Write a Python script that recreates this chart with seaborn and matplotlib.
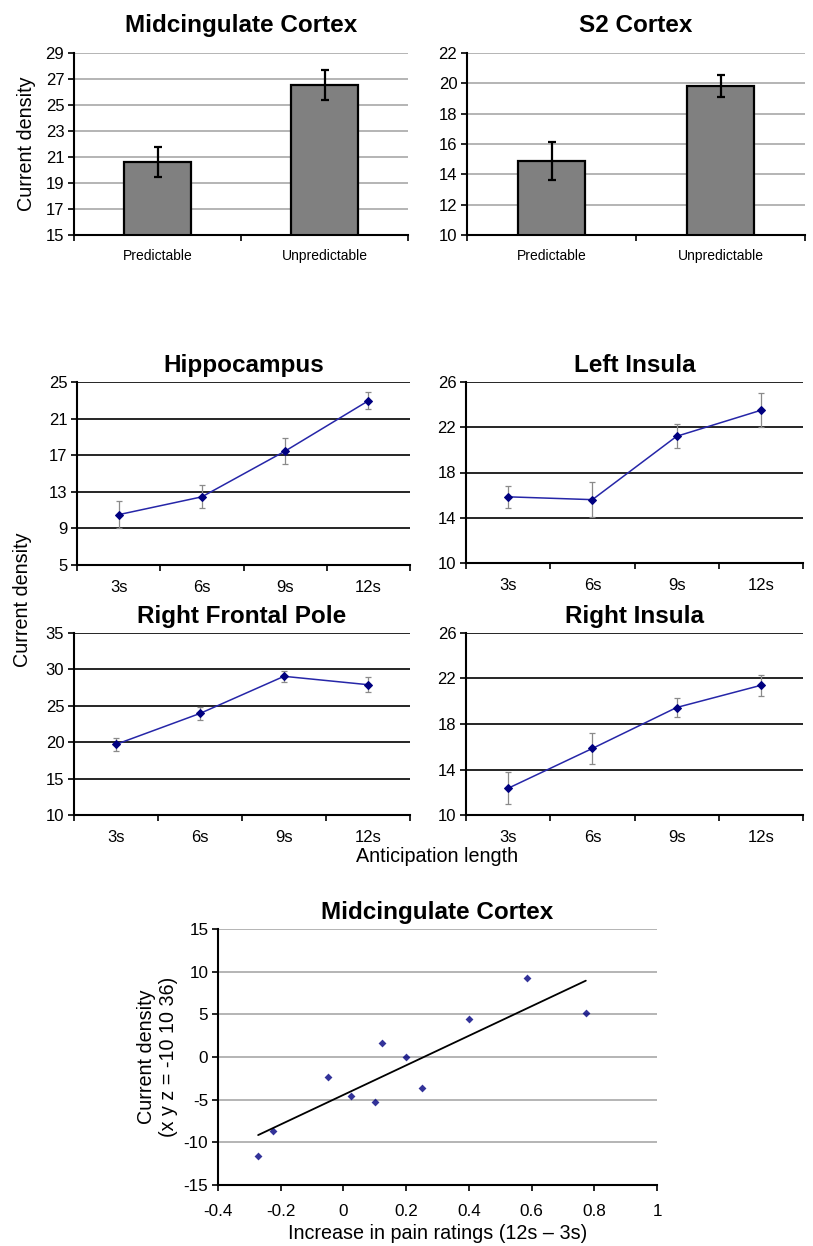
import numpy as np
import pandas as pd
import matplotlib
matplotlib.use("Agg")
import matplotlib.pyplot as plt
import seaborn as sns

sns.set_theme(style="white")
plt.rcParams['font.family'] = ['Liberation Sans', 'DejaVu Sans']
plt.rcParams['axes.unicode_minus'] = False
plt.rcParams['text.color'] = 'black'
plt.rcParams['axes.labelcolor'] = 'black'

# --- данные ---
bar_cats = ['Predictable', 'Unpredictable']
mcc_bar = [20.65, 26.55]
mcc_err = [1.15, 1.15]
s2_bar = [14.9, 19.8]
s2_err = [1.25, 0.72]

times = ['3s', '6s', '9s', '12s']
hippo = [10.5, 12.45, 17.45, 22.95]
hippo_err = [1.5, 1.25, 1.45, 0.95]
l_ins = [15.85, 15.6, 21.2, 23.5]
l_ins_err = [1.0, 1.55, 1.05, 1.5]
rfp = [19.7, 23.95, 29.05, 27.9]
rfp_err = [0.85, 0.85, 0.73, 1.0]
r_ins = [12.35, 15.85, 19.45, 21.4]
r_ins_err = [1.4, 1.35, 0.87, 0.93]

pain_x = [-0.272, -0.224, -0.049, 0.024, 0.100, 0.124, 0.200, 0.250, 0.400, 0.586, 0.773]
dens_y = [-11.64, -8.63, -2.34, -4.53, -5.31, 1.60, 0.00, -3.63, 4.41, 9.22, 5.12]

W, H = 813, 1246
fig = plt.figure(figsize=(W / 100, H / 100), dpi=100)

TICK_FS = 12
TITLE_FS = 17.5
LABEL_FS = 14.2


def make_ax(l, t, r, b):
    return fig.add_axes([l / W, 1 - b / H, (r - l) / W, (b - t) / H])


def style_axes(ax, grid_color, grid_lw):
    for s in ['top', 'right']:
        ax.spines[s].set_visible(False)
    for s in ['left', 'bottom']:
        ax.spines[s].set_color('black')
        ax.spines[s].set_linewidth(1.5)
    ax.yaxis.grid(True, color=grid_color, lw=grid_lw)
    ax.xaxis.grid(False)
    ax.set_axisbelow(True)
    ax.tick_params(axis='y', which='major', left=True, length=4, width=1.2,
                   color='black', labelsize=TICK_FS, pad=3, labelcolor='black')


def cat_ticks(ax, labels, fs, pad):
    n = len(labels)
    ax.set_xlim(-0.5, n - 0.5)
    ax.set_xticks(np.arange(-0.5, n, 1.0))
    ax.set_xticklabels([])
    ax.set_xticks(np.arange(n), minor=True)
    ax.set_xticklabels(labels, minor=True, fontsize=fs)
    ax.tick_params(axis='x', which='major', bottom=True, length=4, width=1.2, color='black')
    ax.tick_params(axis='x', which='minor', bottom=True, length=0, pad=pad, labelcolor='black')


def bar_panel(ax, vals, errs, title, yl, step):
    df = pd.DataFrame({'cat': bar_cats, 'val': vals})
    sns.barplot(data=df, x='cat', y='val', ax=ax, color='#808080', saturation=1,
                edgecolor='black', linewidth=1.6, width=0.4)
    ax.errorbar(np.arange(len(vals)), vals, yerr=errs, fmt='none', ecolor='black',
                elinewidth=1.6, capsize=3, capthick=1.6)
    ax.set_ylim(*yl)
    ax.set_yticks(np.arange(yl[0], yl[1] + 0.1, step))
    style_axes(ax, '#a0a0a0', 1.1)
    cat_ticks(ax, bar_cats, 10, 10)
    ax.set_xlabel('')
    ax.set_ylabel('')
    ax.set_title(title, fontsize=TITLE_FS, fontweight='bold', pad=15)


def line_panel(ax, vals, errs, title, yl, step):
    x = np.arange(len(times))
    ax.errorbar(x, vals, yerr=errs, fmt='none', ecolor='#8a8a8a',
                elinewidth=0.9, capsize=2.5, capthick=0.9, zorder=2)
    sns.lineplot(x=x, y=vals, ax=ax, color='#2626a8', lw=1.1, marker='D',
                 markersize=4.5, markerfacecolor='#000080', markeredgecolor='#000080', zorder=3)
    ax.set_ylim(*yl)
    ax.set_yticks(np.arange(yl[0], yl[1] + 0.1, step))
    style_axes(ax, 'black', 1.2)
    cat_ticks(ax, times, TICK_FS, 11)
    ax.set_title(title, fontsize=TITLE_FS, fontweight='bold', pad=7)


ax1 = make_ax(74, 53, 408, 235)
bar_panel(ax1, mcc_bar, mcc_err, 'Midcingulate Cortex', (15, 29), 2)
ax1.set_ylabel('Current density', fontsize=LABEL_FS, labelpad=7)

ax2 = make_ax(467, 53, 805, 235)
bar_panel(ax2, s2_bar, s2_err, 'S2 Cortex', (10, 22), 2)

ax3 = make_ax(77, 382, 410, 565)
line_panel(ax3, hippo, hippo_err, 'Hippocampus', (5, 25), 4)

ax4 = make_ax(466, 382, 803, 563)
line_panel(ax4, l_ins, l_ins_err, 'Left Insula', (10, 26), 4)

ax5 = make_ax(74, 633, 410, 815)
line_panel(ax5, rfp, rfp_err, 'Right Frontal Pole', (10, 35), 5)

ax6 = make_ax(466, 633, 803, 815)
line_panel(ax6, r_ins, r_ins_err, 'Right Insula', (10, 26), 4)

fig.text(22 / W, 1 - 600 / H, 'Current density', rotation=90, fontsize=LABEL_FS,
         ha='center', va='center')
fig.text(437 / W, 1 - 856 / H, 'Anticipation length', fontsize=LABEL_FS,
         ha='center', va='center')

# --- корреляция ---
ax7 = make_ax(218, 929, 657, 1185)
sns.regplot(x=pain_x, y=dens_y, ax=ax7, ci=None, marker='D', color='#000080',
            scatter_kws=dict(s=16, linewidths=0),
            line_kws=dict(color='black', lw=1.3))
ax7.set_xlim(-0.4, 1.0)
ax7.set_ylim(-15, 15)
ax7.set_xticks(np.arange(-0.4, 1.01, 0.2))
ax7.set_xticklabels(['-0.4', '-0.2', '0', '0.2', '0.4', '0.6', '0.8', '1'])
ax7.set_yticks(np.arange(-15, 16, 5))
style_axes(ax7, '#a0a0a0', 1.1)
ax7.tick_params(axis='y', labelsize=12.3)
ax7.tick_params(axis='x', bottom=True, length=4, width=1.2, color='black',
                labelsize=12.3, pad=10, labelcolor='black')
ax7.set_title('Midcingulate Cortex', fontsize=TITLE_FS, fontweight='bold', pad=7)
ax7.set_xlabel('Increase in pain ratings (12s \u2013 3s)', fontsize=LABEL_FS, labelpad=3)
ax7.set_ylabel('Current density\n(x y z = -10 10 36)', fontsize=LABEL_FS, labelpad=4)

fig.savefig('out.png', dpi=100, facecolor='white')
